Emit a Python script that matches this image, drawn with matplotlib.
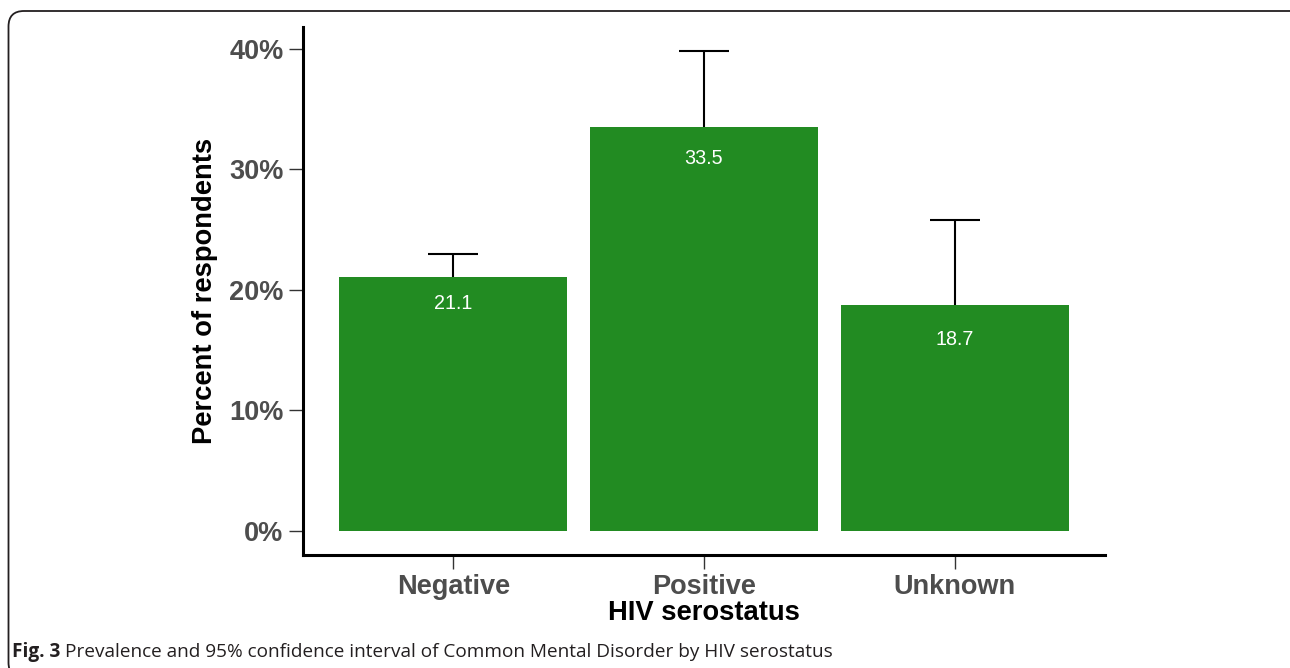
import numpy as np
import matplotlib
matplotlib.use("Agg")
import matplotlib.pyplot as plt
from matplotlib.patches import FancyBboxPatch

categories = ["Negative", "Positive", "Unknown"]
prevalence = [21.1, 33.5, 18.7]
ci_upper = [23.0, 39.8, 25.8]
y_ticks = [0, 10, 20, 30, 40]
y_tick_labels = ["0%", "10%", "20%", "30%", "40%"]

W, H = 1290, 668
fig = plt.figure(figsize=(W / 100, H / 100), dpi=100)

# frame around the figure
frame = FancyBboxPatch((8.5 / W, -10 / H), (W + 20) / W, (H - 11 + 10) / H,
                       boxstyle="round,pad=0,rounding_size=0.012",
                       transform=fig.transFigure, fill=False,
                       edgecolor="#231f20", linewidth=1.3, mutation_aspect=W / H)
fig.add_artist(frame)

ax = fig.add_axes([303 / W, (H - 555) / H, 802 / W, 528 / H])
x = np.arange(1, len(categories) + 1)
green = "#228B22"

# error bars (upper part visible above bar)
ax.vlines(x, prevalence, ci_upper, color="black", linewidth=1.5, zorder=1)
ax.hlines(ci_upper, x - 0.1, x + 0.1, color="black", linewidth=1.5, zorder=1)
ax.bar(x, prevalence, width=0.91, color=green, zorder=2)

for xi, v in zip(x, prevalence):
    ax.text(xi, np.floor(v) - 2.1, f"{v:.1f}", ha="center", va="center",
            color="white", fontsize=14.2, family="Liberation Sans", zorder=3)

ax.set_xlim(0.4, 3.6)
ax.set_ylim(-1.99, 41.79)
ax.set_xticks(x)
ax.set_xticklabels(categories)
ax.set_yticks(y_ticks)
ax.set_yticklabels(y_tick_labels)

for s in ["top", "right"]:
    ax.spines[s].set_visible(False)
for s in ["left", "bottom"]:
    ax.spines[s].set_linewidth(2.2)
    ax.spines[s].set_color("black")
    ax.spines[s].set_capstyle("projecting")

ax.tick_params(axis="both", length=10, width=1.0, color="#333333",
               labelsize=19.5, labelcolor="#4D4D4D", pad=4)
for lab in ax.get_xticklabels() + ax.get_yticklabels():
    lab.set_fontfamily("Liberation Sans")
    lab.set_fontweight("bold")

ax.set_ylabel("Percent of respondents", fontsize=19.7, fontweight="bold",
              family="Liberation Sans", color="black", labelpad=8)
ax.set_xlabel("HIV serostatus", fontsize=19.7, fontweight="bold",
              family="Liberation Sans", color="black", labelpad=0)

# caption
fig.canvas.draw()
renderer = fig.canvas.get_renderer()
cap_y = (H - 650) / H
t1 = fig.text(12 / W, cap_y, "Fig. 3", fontsize=13.7, fontweight="bold",
              family="Open Sans", color="#231f20", va="center_baseline", ha="left")
bb = t1.get_window_extent(renderer=renderer)
fig.text((bb.x1 + 5) / W, cap_y,
         "Prevalence and 95% confidence interval of Common Mental Disorder by HIV serostatus",
         fontsize=13.7, family="Open Sans", color="#231f20", va="center_baseline", ha="left")

fig.savefig("out.png", dpi=100)
